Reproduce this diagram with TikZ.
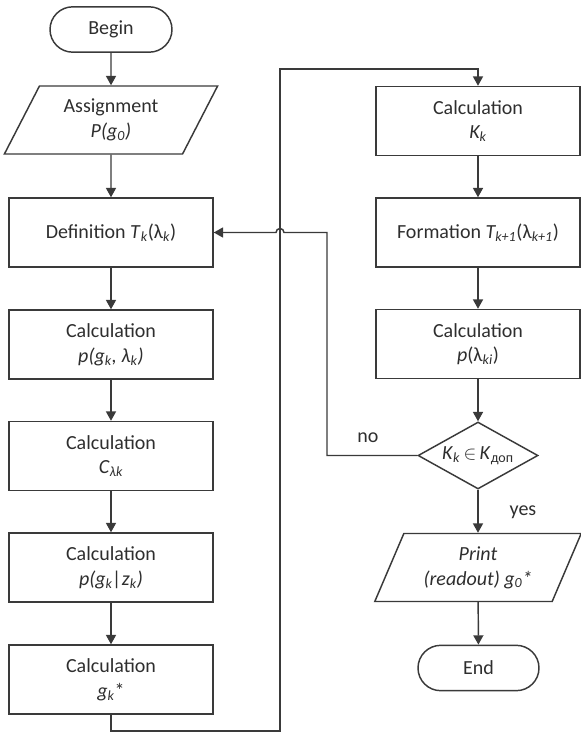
\documentclass[tikz,border=0pt]{standalone}
\usepackage{fontspec}
\setmainfont{Carlito}
\usetikzlibrary{shapes.geometric,arrows.meta}
\definecolor{ln}{HTML}{3A3A3A}
\definecolor{txt}{HTML}{2E2E2E}
\newcommand{\ix}[1]{\textsubscript{\itshape #1}}
\begin{document}
\begin{tikzpicture}[x=0.75pt,y=-0.75pt]
\useasboundingbox (0,0) rectangle (581,732);
\tikzstyle{every node}=[font=\fontsize{15}{18.5}\selectfont,text=txt,align=center];
\tikzstyle{box}=[draw=ln,line width=1.1pt,minimum width=153pt,minimum height=51.75pt,inner sep=0pt];
\tikzstyle{term}=[draw=ln,line width=1.1pt,minimum width=91.5pt,minimum height=34pt,rounded corners=17pt];
\tikzstyle{io}=[draw=ln,line width=1.1pt,trapezium,trapezium left angle=61,trapezium right angle=119,trapezium stretches=true,minimum width=160pt,minimum height=51pt,inner sep=0pt];
\tikzstyle{test}=[draw=ln,line width=1.1pt,diamond,aspect=1.8,minimum width=90pt,minimum height=50.25pt,inner sep=0pt];
\tikzstyle{arr}=[draw=ln,line width=1.1pt,-{Triangle[length=7pt,width=7.5pt]}];
\node[term] (1) at (111,29.5) {Begin};
\node[io] (2) at (111,120) {Assignment\\\textit{P(g\textsubscript{0})}};
\node[box] (3) at (111,232.5) {Definition \textit{T}\ix{k}(λ\ix{k})};
\node[box] (4) at (111,344.5) {Calculation\\\textit{p(g\ix{k}, λ\ix{k})}};
\node[box] (5) at (111,456) {Calculation\\\textit{C}\ix{λk}};
\node[box] (6) at (111,567.5) {Calculation\\\textit{p(g\ix{k}|z\ix{k})}};
\node[box] (7) at (111,679.5) {Calculation\\\textit{g\ix{k}}*};
\node[box] (8) at (478,121) {Calculation\\\textit{K\ix{k}}};
\node[box] (9) at (478,232.5) {Formation \textit{T\ix{k+1}}(λ\ix{k+1})};
\node[box] (10) at (478,344) {Calculation\\\textit{p}(λ\ix{ki})};
\node[test] (11) at (478,455.5) {\textit{K}\ix{k}\,$\in$\,\textit{K}\textsubscript{доп}};
\node[io,minimum width=155pt,trapezium left angle=63,trapezium right angle=117] (12) at (478,567.5) {\textit{Print}\\\textit{(readout) g\textsubscript{0}*}};
\node[term,minimum width=90.75pt] (13) at (478.5,668) {End};
\node (no) at (368,438) {no};
\node (yes) at (523,512) {yes};
\coordinate (c1) at (280,731);
\coordinate (c2) at (280,69);
\coordinate (c3) at (327,232.5);
\coordinate (h) at (284,232.5);
\draw[arr] (1) -- (2);
\draw[arr] (2) -- (3);
\draw[arr] (3) -- (4);
\draw[arr] (4) -- (5);
\draw[arr] (5) -- (6);
\draw[arr] (6) -- (7);
\draw[arr] (7.south) |- (c1) -- (c2) -| (8.north);
\draw[arr] (8) -- (9);
\draw[arr] (9) -- (10);
\draw[arr] (10) -- (11);
\draw[arr] (11) -- (12);
\draw[arr] (12) -- (13);
\draw[arr] (11.west) -| (c3) -- (h) arc (0:-180:4) -- (3.east);
\end{tikzpicture}
\end{document}
